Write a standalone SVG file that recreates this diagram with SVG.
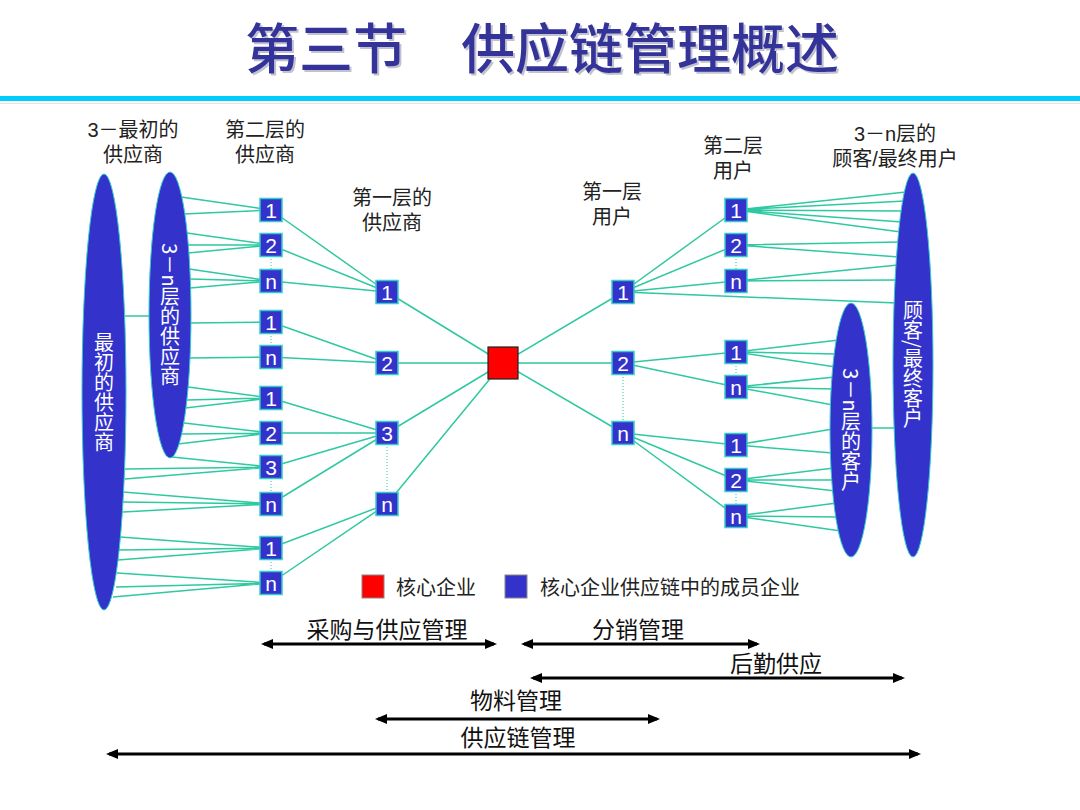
<svg xmlns="http://www.w3.org/2000/svg" width="1080" height="810" viewBox="0 0 1080 810">
<style>
.cn{font-family:"Noto Sans CJK SC","Liberation Sans",sans-serif}
.lbl{font-family:"Liberation Sans","Noto Sans CJK SC",sans-serif;font-size:20px;fill:#222;text-anchor:middle}
.ell{fill:#3333CC;stroke:#33CCCC;stroke-width:1}
.vt{font-family:"Noto Sans CJK SC","Liberation Sans",sans-serif;font-size:20px;fill:#fff;text-anchor:middle;writing-mode:vertical-rl}
.box{fill:#3333CC;stroke:#33CCCC;stroke-width:1.5}
.bt{font-family:"Liberation Sans",Arial,sans-serif;font-size:21px;fill:#fff;text-anchor:middle}
.ln{stroke:#2EC9A0;stroke-width:1.5;fill:none}
.dot{stroke:#2EC9A0;stroke-width:1;stroke-dasharray:1 2;fill:none}
.arr{stroke:#000;stroke-width:3;fill:none;marker-start:url(#ah);marker-end:url(#ah)}
.al{font-family:"Noto Sans CJK SC","Liberation Sans",sans-serif;font-size:23px;fill:#111;text-anchor:middle}
</style>
<defs>
<marker id="ah" viewBox="0 0 12 10" refX="9" refY="5" markerWidth="12" markerHeight="10" markerUnits="userSpaceOnUse" orient="auto-start-reverse">
<path d="M0,0 L12,5 L0,10 z" fill="#000"/>
</marker>
</defs>
<rect width="1080" height="810" fill="#fff"/>

<g id="title">
<text x="247" y="71" class="cn" font-size="54" font-weight="500" fill="#9a9ab0" opacity="0.6">第三节　供应链管理概述</text>
<text x="245" y="69" class="cn" font-size="54" font-weight="500" fill="#333399">第三节　供应链管理概述</text>
<rect x="0" y="96" width="1080" height="5" fill="#00CCFF"/>
<line x1="0" y1="103.5" x2="1080" y2="103.5" stroke="#e4e4e4" stroke-width="1"/>
</g>

<g id="labels">
<text class="lbl" y="137"><tspan x="133">3－最初的</tspan><tspan x="133" dy="25">供应商</tspan></text>
<text class="lbl" y="137"><tspan x="265">第二层的</tspan><tspan x="265" dy="25">供应商</tspan></text>
<text class="lbl" y="205"><tspan x="392">第一层的</tspan><tspan x="392" dy="25">供应商</tspan></text>
<text class="lbl" y="199"><tspan x="612">第一层</tspan><tspan x="612" dy="25">用户</tspan></text>
<text class="lbl" y="153"><tspan x="733">第二层</tspan><tspan x="733" dy="25">用户</tspan></text>
<text class="lbl" y="141"><tspan x="895">3－n层的</tspan><tspan x="895" dy="25">顾客/最终用户</tspan></text>
</g>

<g id="connectors">
<path class="ln" d="M181,197L271,210M183,214L271,210"/>
<path class="ln" d="M187,233L271,245M188,245L271,245M188,253L271,245"/>
<path class="ln" d="M189,269L271,281M190,279L271,281M190,288L271,281"/>
<path class="ln" d="M190,323L271,322M188,358L271,357"/>
<path class="ln" d="M188,387L271,398M187,400L271,398M185,408L271,398"/>
<path class="ln" d="M184,423L271,433M182,434L271,433M178,444L271,433"/>
<path class="ln" d="M172,457L271,467M125,469L271,467M125,479L271,467"/>
<path class="ln" d="M123,492L271,504M123,502L271,504M123,512L271,504"/>
<path class="ln" d="M120,537L271,548M119,550L271,548M118,560L271,548"/>
<path class="ln" d="M117,573L271,583M116,587L271,583M113,597L271,583"/>
<path class="ln" d="M120,316L155,316"/>
<path class="ln" d="M271,210L387,292M271,245L387,292M271,281L387,292"/>
<path class="ln" d="M271,322L387,363M271,357L387,363"/>
<path class="ln" d="M271,398L387,433M271,433L387,433M271,467L387,433M271,504L387,433"/>
<path class="ln" d="M271,548L387,504M271,583L387,504"/>
<path class="ln" d="M387,292L503,363M387,363L503,363M387,433L503,363M387,504L503,363"/>
<path class="ln" d="M503,363L623,292M503,363L623,363M503,363L623,433"/>
<path class="ln" d="M623,292L736,210M623,292L736,245M623,292L736,281M623,292L897,303"/>
<path class="ln" d="M623,363L736,352M623,363L736,387"/>
<path class="ln" d="M623,433L736,445M623,433L736,480M623,433L736,516"/>
<path class="ln" d="M736,210L906,192M736,210L905,201M736,210L904,211M736,210L902,222M736,210L901,232"/>
<path class="ln" d="M736,245L900,242M736,245L899,257"/>
<path class="ln" d="M736,281L898,265M736,281L897,280"/>
<path class="ln" d="M736,352L839,340M736,352L837,354M736,352L836,367"/>
<path class="ln" d="M736,387L835,377M736,387L834,389M736,387L833,405"/>
<path class="ln" d="M736,445L833,429M736,445L833,453"/>
<path class="ln" d="M736,480L834,468M736,480L835,480M736,480L836,491"/>
<path class="ln" d="M736,516L837,503M736,516L839,517M736,516L841,531"/>
<path class="ln" d="M865,428L900,428"/>
<path class="dot" d="M271,256L271,270M271,333L271,346M271,478L271,493M271,559L271,572"/>
<path class="dot" d="M387,444L387,493"/>
<path class="dot" d="M623,374L623,422"/>
<path class="dot" d="M736,256L736,270M736,363L736,376M736,491L736,505"/>
</g>

<g id="n-initial-suppliers">
<ellipse class="ell" cx="104" cy="392" rx="22" ry="218"/>
<text class="vt" x="104" y="392">最初的供应商</text>
</g>
<g id="n-3n-suppliers">
<ellipse class="ell" cx="170" cy="315" rx="21" ry="143"/>
<text class="vt" x="170" y="315">3－n层的供应商</text>
</g>
<g id="n-end-customers">
<ellipse class="ell" cx="913" cy="365" rx="20" ry="192"/>
<text class="vt" x="913" y="364">顾客/最终客户</text>
</g>
<g id="n-3n-customers">
<ellipse class="ell" cx="851" cy="430" rx="21" ry="127"/>
<text class="vt" x="851" y="430">3－n层的客户</text>
</g>

<g id="n-s2-1a"><rect class="box" x="260" y="198.5" width="22" height="23"/><text class="bt" x="271" y="217.5">1</text></g>
<g id="n-s2-2a"><rect class="box" x="260" y="233.5" width="22" height="23"/><text class="bt" x="271" y="252.5">2</text></g>
<g id="n-s2-na"><rect class="box" x="260" y="269.5" width="22" height="23"/><text class="bt" x="271" y="288.5">n</text></g>
<g id="n-s2-1b"><rect class="box" x="260" y="310.5" width="22" height="23"/><text class="bt" x="271" y="329.5">1</text></g>
<g id="n-s2-nb"><rect class="box" x="260" y="345.5" width="22" height="23"/><text class="bt" x="271" y="364.5">n</text></g>
<g id="n-s2-1c"><rect class="box" x="260" y="386.5" width="22" height="23"/><text class="bt" x="271" y="405.5">1</text></g>
<g id="n-s2-2c"><rect class="box" x="260" y="421.5" width="22" height="23"/><text class="bt" x="271" y="440.5">2</text></g>
<g id="n-s2-3c"><rect class="box" x="260" y="455.5" width="22" height="23"/><text class="bt" x="271" y="474.5">3</text></g>
<g id="n-s2-nc"><rect class="box" x="260" y="492.5" width="22" height="23"/><text class="bt" x="271" y="511.5">n</text></g>
<g id="n-s2-1d"><rect class="box" x="260" y="536.5" width="22" height="23"/><text class="bt" x="271" y="555.5">1</text></g>
<g id="n-s2-nd"><rect class="box" x="260" y="571.5" width="22" height="23"/><text class="bt" x="271" y="590.5">n</text></g>

<g id="n-s1-1"><rect class="box" x="376" y="280.5" width="22" height="23"/><text class="bt" x="387" y="299.5">1</text></g>
<g id="n-s1-2"><rect class="box" x="376" y="351.5" width="22" height="23"/><text class="bt" x="387" y="370.5">2</text></g>
<g id="n-s1-3"><rect class="box" x="376" y="421.5" width="22" height="23"/><text class="bt" x="387" y="440.5">3</text></g>
<g id="n-s1-n"><rect class="box" x="376" y="492.5" width="22" height="23"/><text class="bt" x="387" y="511.5">n</text></g>

<g id="n-core"><rect x="488" y="347" width="30" height="32" fill="#FF0000" stroke="#222" stroke-width="1.2"/></g>

<g id="n-u1-1"><rect class="box" x="612" y="280.5" width="22" height="23"/><text class="bt" x="623" y="299.5">1</text></g>
<g id="n-u1-2"><rect class="box" x="612" y="351.5" width="22" height="23"/><text class="bt" x="623" y="370.5">2</text></g>
<g id="n-u1-n"><rect class="box" x="612" y="421.5" width="22" height="23"/><text class="bt" x="623" y="440.5">n</text></g>

<g id="n-u2-1a"><rect class="box" x="725" y="198.5" width="22" height="23"/><text class="bt" x="736" y="217.5">1</text></g>
<g id="n-u2-2a"><rect class="box" x="725" y="233.5" width="22" height="23"/><text class="bt" x="736" y="252.5">2</text></g>
<g id="n-u2-na"><rect class="box" x="725" y="269.5" width="22" height="23"/><text class="bt" x="736" y="288.5">n</text></g>
<g id="n-u2-1b"><rect class="box" x="725" y="340.5" width="22" height="23"/><text class="bt" x="736" y="359.5">1</text></g>
<g id="n-u2-nb"><rect class="box" x="725" y="375.5" width="22" height="23"/><text class="bt" x="736" y="394.5">n</text></g>
<g id="n-u2-1c"><rect class="box" x="725" y="433.5" width="22" height="23"/><text class="bt" x="736" y="452.5">1</text></g>
<g id="n-u2-2c"><rect class="box" x="725" y="468.5" width="22" height="23"/><text class="bt" x="736" y="487.5">2</text></g>
<g id="n-u2-nc"><rect class="box" x="725" y="504.5" width="22" height="23"/><text class="bt" x="736" y="523.5">n</text></g>

<g id="legend">
<rect x="362" y="575" width="22" height="23" fill="#FF0000" stroke="#888" stroke-width="1"/>
<text x="396" y="595" class="cn" font-size="20" fill="#222">核心企业</text>
<rect x="505" y="575" width="22" height="23" fill="#3333CC" stroke="#888" stroke-width="1"/>
<text x="540" y="595" class="cn" font-size="20" fill="#222">核心企业供应链中的成员企业</text>
</g>

<g id="scopes">
<text class="al" x="387" y="638">采购与供应管理</text>
<line class="arr" x1="264" y1="644" x2="494" y2="644"/>
<text class="al" x="638" y="638">分销管理</text>
<line class="arr" x1="524" y1="644" x2="757" y2="644"/>
<text class="al" x="776" y="672">后勤供应</text>
<line class="arr" x1="533" y1="678" x2="902" y2="678"/>
<text class="al" x="516" y="709">物料管理</text>
<line class="arr" x1="378" y1="719" x2="657" y2="719"/>
<text class="al" x="518" y="746">供应链管理</text>
<line class="arr" x1="109" y1="754" x2="918" y2="754"/>
</g>
</svg>
